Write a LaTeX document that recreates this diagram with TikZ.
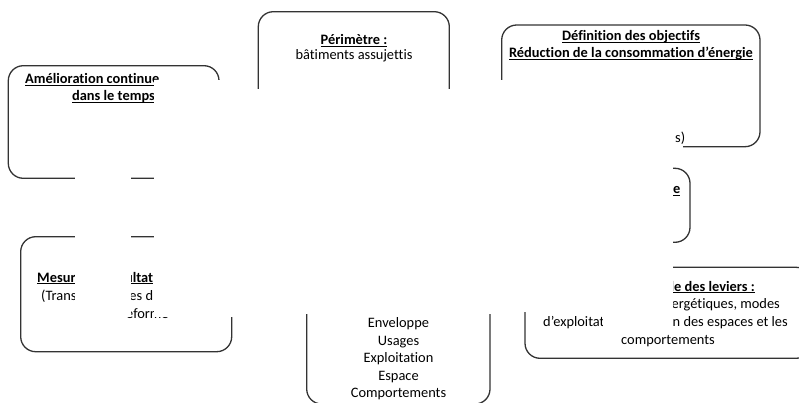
\documentclass[tikz,border=0pt]{standalone}
\usepackage{fontspec}
\setmainfont{Carlito}[Ligatures={NoCommon}]
\newcommand\myul[1]{\setbox0\hbox{#1}\rlap{\rule[-1.9pt]{\wd0}{0.95pt}}\box0}
\begin{document}
\begin{tikzpicture}[x=1pt,y=-1pt,
  box/.style={draw=black!80, line width=1.3pt, rounded corners=15pt},
  txt/.style={inner sep=0pt, font=\fontsize{14.4}{17.5}\selectfont},
  hd/.style={inner sep=0pt, font=\fontsize{14.4}{17.5}\selectfont\bfseries},
  wipe/.style={fill=white, draw=none}]
\useasboundingbox (0,0) rectangle (799,403);
% boxes
\draw[box] (8.3,65.7) rectangle (219,178.3);
\draw[box] (258.3,11.7) rectangle (449.3,150);
\draw[box] (501.7,25) rectangle (760,146.7);
\draw[box] (20.7,236.7) rectangle (231.7,351.7);
\draw[box] (306.7,250) rectangle (490,404);
\draw[box] (520,168.3) rectangle (690,242.3);
\draw[box] (525,267.3) rectangle (811,358.3);
% texts
\node[hd, anchor=base] (per) at (354,45) {\myul{Périmètre :}};
\node[txt, anchor=base] (bat) at (354,60) {bâtiments assujettis};
\node[hd, anchor=base] (def) at (631,41) {\myul{Définition des objectifs}};
\node[hd, anchor=base] (red) at (631,58) {\myul{Réduction de la consommation d’énergie}};
\node[txt, anchor=base west] (fin) at (675,142.5) {s)};
\node[hd, anchor=base west] (ame) at (25,84) {\myul{Amélioration continue}};
\node[hd, anchor=base] (dans) at (113.5,101) {\myul{dans le temps}};
\node[hd, anchor=base west] (mes) at (37,282) {\myul{Mesure}};
\node[hd, anchor=base east] (res) at (153.3,282) {\myul{ultat}};
\node[txt, anchor=base west] (tra) at (41,300) {(Transm};
\node[txt, anchor=base east] (don) at (153.3,300) {es d};
\node[txt, anchor=base west] (pla) at (126,318) {eforme};
\node[hd, anchor=base west] (refe) at (673,194) {\myul{e}};
\node[hd, anchor=base east] (lev) at (755,291) {\myul{le des leviers :}};
\node[txt, anchor=base east] (ene) at (780,308) {énergétiques, modes};
\node[txt, anchor=base west] (expl) at (543,326) {d’exploitat};
\node[txt, anchor=base east] (esp) at (788,326) {ion des espaces et les};
\node[txt, anchor=base] (com) at (668,344) {comportements};
\node[txt, anchor=base] (l1) at (398.5,327.5) {Enveloppe};
\node[txt, anchor=base] (l2) at (398.5,345) {Usages};
\node[txt, anchor=base] (l3) at (398.5,362.5) {Exploitation};
\node[txt, anchor=base] (l4) at (398.5,380) {Espace};
\node[txt, anchor=base] (l5) at (398.5,397.5) {Comportements};
% blank areas
\fill[wipe] (75,104) rectangle (130.5,317);
\fill[wipe] (153.5,80) rectangle (254,317);
\fill[wipe] (254,89) rectangle (498,314);
\fill[wipe] (498,80) rectangle (672.5,312);
\fill[wipe] (672,145) rectangle (683,149);
\fill[wipe] (603,311) rectangle (672.5,331);
\end{tikzpicture}
\end{document}
